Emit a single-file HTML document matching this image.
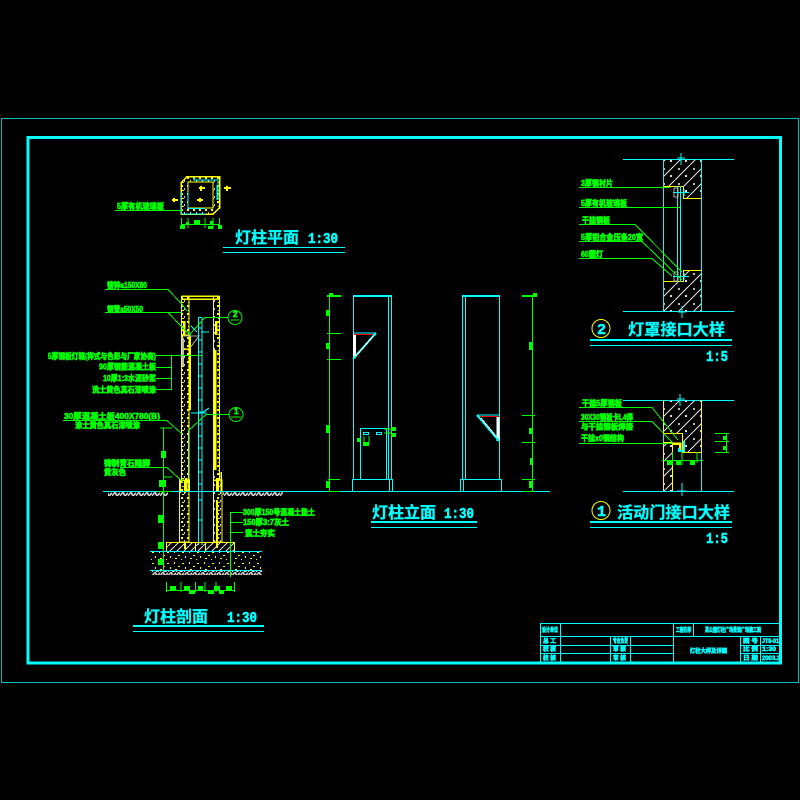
<!DOCTYPE html>
<html><head><meta charset="utf-8"><style>
html,body{margin:0;padding:0;background:#000;width:800px;height:800px;overflow:hidden}
svg{display:block}
.g{fill:#0f0;stroke:#0f0;stroke-width:.65;font:bold 8px "Liberation Sans","Noto Sans CJK SC",sans-serif}
.c{fill:#0ff;stroke:#0ff;stroke-width:.3;font:bold 16px "Liberation Sans","Noto Sans CJK SC",sans-serif}
.m{fill:#0ff;stroke:#0ff;stroke-width:.6;font:bold 15px "Liberation Mono","Noto Sans CJK SC",monospace}
.t{fill:#0ff;stroke:#0ff;stroke-width:.55;font:bold 6px "Liberation Sans","Noto Sans CJK SC",sans-serif}
</style></head><body>
<svg width="800" height="800" viewBox="0 0 800 800" xmlns="http://www.w3.org/2000/svg" fill="none" shape-rendering="crispEdges">
<defs>
<pattern id="conc" width="15" height="15" patternUnits="userSpaceOnUse"><path d="M0 15L15 0" stroke="#ddd" stroke-width="1"/><rect x="3" y="3" width="2" height="2" fill="#bbb"/><rect x="10" y="10" width="2" height="2" fill="#ddd"/></pattern>
<pattern id="wall" width="6" height="8" patternUnits="userSpaceOnUse"><rect x="1" y="1" width="2" height="2" fill="#ff0"/><rect x="4" y="4" width="1" height="2" fill="#ccc"/><rect x="2" y="6" width="2" height="1" fill="#ff0"/></pattern>
<pattern id="grav" width="15" height="11" patternUnits="userSpaceOnUse"><rect x="2" y="2" width="2" height="1" fill="#ff0"/><rect x="9" y="1" width="1" height="2" fill="#ff0"/><rect x="13" y="5" width="2" height="1" fill="#ff0"/><rect x="5" y="6" width="1" height="2" fill="#ff0"/><rect x="10" y="8" width="2" height="1" fill="#ff0"/><rect x="1" y="9" width="1" height="1" fill="#ff0"/></pattern>
<pattern id="gnd" width="8" height="4" patternUnits="userSpaceOnUse"><rect width="8" height="4" fill="#000"/><path d="M0 4L3 0L5 4L8 1" stroke="#ccc" stroke-width="1.600"/></pattern>
<pattern id="fnd" width="7" height="7" patternUnits="userSpaceOnUse"><path d="M0 7L7 0" stroke="#ddd" stroke-width="1"/></pattern>
</defs>

<!-- frames -->
<rect x="1.5" y="118.5" width="797" height="564" stroke="#0bb"/>
<rect x="28" y="137.5" width="752.5" height="525.5" stroke="#0ff" stroke-width="3"/>

<!-- plan -->
<g>
<path d="M187 176.500H219.500V208L213 214H181V183Z" fill="url(#wall)" stroke="#ff0" stroke-width="1.500"/>
<rect x="188" y="182" width="25" height="26" fill="#000" stroke="#ff0" stroke-width="1"/>
<path d="M181.500 192V214H206M188 192V208.500H205" stroke="#0ff"/>
<path d="M194 177V180H218V200M217 185V200" stroke="#0ff" stroke-width="1.300"/>
<path d="M199 188H205M201 186V191M224 188H231M227 186V191M172 200H178M174 198V202M197 200H203M200 198V202" stroke="#ff0" stroke-width="2"/>
<text class="g" x="117" y="209" textLength="47" lengthAdjust="spacingAndGlyphs">5厚有机玻璃板</text>
<path d="M115 210.500H182" stroke="#0f0"/>
<path d="M181 224.500H220M181.500 218V228M188 218V228M205 218V228M213 218V228M219.500 218V228" stroke="#0f0"/>
<rect x="180" y="225" width="5" height="4" fill="#0f0"/><rect x="194" y="220" width="6" height="5" fill="#0f0"/><rect x="208" y="226" width="5" height="3" fill="#0f0"/><rect x="218" y="225" width="4" height="4" fill="#0f0"/>
<rect x="186" y="222" width="3" height="3" fill="#0f0"/><rect x="210" y="221" width="3" height="3" fill="#0f0"/>
<text class="c" x="235" y="243" textLength="64" lengthAdjust="spacingAndGlyphs">灯柱平面</text>
<text class="m" x="308" y="243" font-size="13" textLength="30" lengthAdjust="spacingAndGlyphs">1:30</text>
<path d="M223 247.500H345M223 252.500H345" stroke="#0ff"/>
</g>

<!-- section -->
<g>
<rect x="181.500" y="296.500" width="7.500" height="184" fill="url(#wall)" stroke="#ff0" stroke-width="1.300"/>
<rect x="213.500" y="296.500" width="6" height="184" fill="url(#wall)" stroke="#ff0" stroke-width="1.300"/>
<path d="M181.500 296H219.500M181.500 299H219.500" stroke="#ff0" stroke-width="1.500"/>
<path d="M184 321V335M216 321V335M189.500 350V410M215 350V470M186 478V492M217 478V492" stroke="#ff0" stroke-width="2.500"/>
<path d="M182 335H190V349H182Z" stroke="#ff0" stroke-width="1.500"/>
<rect x="182" y="338" width="2" height="28" fill="#bbb"/>
<path d="M183 336H199L190 348" stroke="#aaa"/>
<path d="M198.500 317.500V545M202 317.500V545M198 317.500H202" stroke="#0ff" stroke-width="1.200"/>
<path d="M198 328H202M198 340H202M198 352H202M198 364H202M198 376H202M198 388H202M198 400H202M198 412H202M198 424H202M198 436H202M198 448H202M198 460H202M198 472H202M198 484H202M198 500H202M198 520H202" stroke="#0ff"/>
<path d="M191 326L197 332M201 332H209M191 413H207M209 408L202 413" stroke="#0ff" stroke-width="1.200"/>
<path d="M188.500 431V492" stroke="#0ff"/>
<path d="M181.500 420V480M189 420V482" stroke="#ff0" stroke-width="1.300"/>
<rect x="179.500" y="480" width="9.500" height="62" fill="url(#wall)" stroke="#ff0" stroke-width="1.300"/>
<rect x="213.500" y="480" width="8.500" height="62" fill="url(#wall)" stroke="#ff0" stroke-width="1.300"/>
<path d="M185 480V493M218 478V492M217 500V548M185 542V549" stroke="#ff0" stroke-width="2"/>
<path d="M181 480H189V492M180 480V493M221 472V492" stroke="#ff0" stroke-width="1.500"/>
<rect x="166.500" y="542.500" width="68" height="9" fill="url(#fnd)" stroke="#ff0" stroke-width="1.200"/>
<path d="M195.500 542V551M205.500 542V551" stroke="#ff0"/>
<rect x="151" y="552" width="111" height="18" fill="url(#grav)"/>
<path d="M150 551.500H262M150 570.500H262" stroke="#0ff"/>
<rect x="152" y="571" width="110" height="4" fill="url(#gnd)"/>
<rect x="108" y="492" width="60" height="4" fill="url(#gnd)"/>
<rect x="223" y="492" width="60" height="4" fill="url(#gnd)"/>
<path d="M103 491.500H550" stroke="#0ff"/>
<path d="M163.500 428V572M160 428H172M158 491.500H172M163 477H172" stroke="#0f0"/>
<rect x="161" y="451" width="5" height="7" fill="#0f0"/><rect x="159" y="480" width="7" height="7" fill="#0f0"/><rect x="158" y="515" width="6" height="8" fill="#0f0"/><rect x="158" y="542" width="5" height="7" fill="#0f0"/><rect x="158" y="559" width="5" height="6" fill="#0f0"/>
<path d="M230.500 512V577M230 512.500H243M230 522.500H243M230 532.500H243" stroke="#0f0"/>
<text class="g" x="243" y="515" textLength="72" lengthAdjust="spacingAndGlyphs">300厚150号混凝土垫土</text>
<text class="g" x="243" y="525" textLength="46" lengthAdjust="spacingAndGlyphs">150厚3:7灰土</text>
<text class="g" x="245" y="536" textLength="30" lengthAdjust="spacingAndGlyphs">素土夯实</text>
<path d="M166 590.500H235M166.500 582V592M181 582V592M195.500 582V592M205 582V592M216 582V592M234.500 582V592" stroke="#0f0"/>
<rect x="170" y="586" width="6" height="4" fill="#0f0"/><rect x="184" y="586" width="6" height="4" fill="#0f0"/><rect x="198" y="586" width="5" height="4" fill="#0f0"/><rect x="214" y="586" width="6" height="4" fill="#0f0"/><rect x="226" y="586" width="6" height="4" fill="#0f0"/><rect x="189" y="591" width="6" height="3" fill="#0f0"/><rect x="208" y="591" width="6" height="3" fill="#0f0"/><rect x="219" y="591" width="5" height="3" fill="#0f0"/>
<text class="c" x="144" y="622" textLength="64" lengthAdjust="spacingAndGlyphs">灯柱剖面</text>
<text class="m" x="227" y="622" font-size="13" textLength="30" lengthAdjust="spacingAndGlyphs">1:30</text>
<path d="M133 626H264" stroke="#0ff" stroke-width="2"/><path d="M133 631.500H264" stroke="#0ff"/>
</g>

<!-- section labels -->
<g>
<text class="g" x="107" y="288" textLength="40" lengthAdjust="spacingAndGlyphs">镀锌a150X80</text>
<path d="M105 289.500H168L181 303L187 311" stroke="#0f0"/>
<text class="g" x="107" y="312" textLength="36" lengthAdjust="spacingAndGlyphs">钢管a50X50</text>
<path d="M105 312.500H168L181 326L191 336M168 312.500H182" stroke="#0f0"/>
<path d="M228 317.500H205L190 334" stroke="#0f0"/>
<circle cx="235" cy="317.500" r="7" stroke="#0f0" shape-rendering="auto"/>
<text class="g" x="233" y="317" font-size="6">2</text><path d="M231 320H239" stroke="#0f0"/>
<text class="g" x="48" y="359" textLength="108" lengthAdjust="spacingAndGlyphs">5厚钢板灯箱(样式与色彩与厂家协商)</text>
<path d="M156 355.500H202M156 367.500H171M156 378.500H171M156 389.500H171M171.500 355V390" stroke="#0f0"/>
<text class="g" x="99" y="369.500" textLength="57" lengthAdjust="spacingAndGlyphs">90厚钢筋混凝土板</text>
<text class="g" x="103" y="381" textLength="53" lengthAdjust="spacingAndGlyphs">10厚1:3水泥砂浆</text>
<text class="g" x="92" y="392.500" textLength="64" lengthAdjust="spacingAndGlyphs">洗土黄色真石漆喷涂</text>
<text class="g" x="64" y="419" textLength="96" lengthAdjust="spacingAndGlyphs">30厚混凝土板400X780(B)</text>
<path d="M63 420.500H167L182 434" stroke="#0f0"/>
<text class="g" x="75" y="428" textLength="65" lengthAdjust="spacingAndGlyphs">涂土黄色真石漆喷涂</text>
<path d="M188 431L206 414.500H229" stroke="#0f0"/>
<circle cx="236" cy="414.500" r="7" stroke="#0f0" shape-rendering="auto"/>
<text class="g" x="234" y="414" font-size="6">1</text><path d="M231 417H241" stroke="#0f0"/>
<text class="g" x="104" y="466" textLength="46" lengthAdjust="spacingAndGlyphs">铸制青石踏脚</text>
<path d="M120 467.500H167L183 482" stroke="#0f0"/>
<text class="g" x="104" y="475" textLength="22" lengthAdjust="spacingAndGlyphs">黄灰色</text>
</g>

<!-- elevation left -->
<g>
<path d="M353.500 296.500V479M388.500 296.500V479M391.500 296.500V479" stroke="#0ff"/>
<path d="M353 296H392" stroke="#0ff" stroke-width="2"/>
<path d="M352.500 491V479.500H392.500V491M389.500 479.500V491" stroke="#0ff"/>
<rect x="360.500" y="428.500" width="26" height="51" stroke="#0ff"/>
<rect x="363.500" y="432.500" width="5" height="2" stroke="#0ff"/><rect x="376.500" y="432.500" width="5" height="2" stroke="#0ff"/>
<path d="M354.500 334V358" stroke="#fff" stroke-width="3"/>
<path d="M354 333H376" stroke="#0ff" stroke-width="1"/>
<path d="M354 334.500H374" stroke="#f00" stroke-width="1"/>
<path d="M353 359L376 333" stroke="#0ff" stroke-width="2"/>
<path d="M356 356L373 336" stroke="#fff" stroke-width="1"/>
<path d="M329.500 296V492" stroke="#0f0"/>
<path d="M327 296H341" stroke="#0f0" stroke-width="2"/>
<path d="M327 333.500H341M327 359.500H341M328 479.500H340M328 491.500H340" stroke="#0f0"/>
<rect x="326" y="310" width="4" height="6" fill="#0f0"/><rect x="326" y="343" width="3" height="6" fill="#0f0"/><rect x="326" y="425" width="4" height="8" fill="#0f0"/><rect x="326" y="481" width="4" height="7" fill="#0f0"/><rect x="329" y="293" width="4" height="3" fill="#0f0"/>
<path d="M384 429H392M384 433H392M364 436V443M369 436V443M364 443H369" stroke="#0f0"/>
<rect x="391" y="427" width="5" height="4" fill="#0f0"/><rect x="391" y="433" width="5" height="4" fill="#0f0"/><rect x="357" y="438" width="3" height="4" fill="#0f0"/><rect x="363" y="442" width="6" height="4" fill="#0f0"/>
</g>
<!-- elevation right -->
<g>
<path d="M462.500 296.500V479M465.500 296.500V479M499.500 296.500V479" stroke="#0ff"/>
<path d="M462 296H500" stroke="#0ff" stroke-width="2"/>
<path d="M460.500 491V479.500H501.500V491M463.500 479.500V491" stroke="#0ff"/>
<path d="M498 417V441" stroke="#fff" stroke-width="3"/>
<path d="M477 415H499" stroke="#0ff" stroke-width="1"/>
<path d="M479 416.500H498" stroke="#f00" stroke-width="1"/>
<path d="M477 415L499 441" stroke="#0ff" stroke-width="2"/>
<path d="M481 418L496 436" stroke="#fff" stroke-width="1"/>
<path d="M532.500 296V492" stroke="#0f0"/>
<path d="M522 296H534" stroke="#0f0" stroke-width="2"/>
<path d="M522 415.500H535M522 442.500H535M522 479.500H535M522 491.500H534" stroke="#0f0"/>
<rect x="533" y="293" width="4" height="4" fill="#0f0"/><rect x="529" y="342" width="4" height="8" fill="#0f0"/><rect x="529" y="428" width="4" height="6" fill="#0f0"/><rect x="530" y="458" width="3" height="7" fill="#0f0"/><rect x="529" y="481" width="4" height="7" fill="#0f0"/>
<text class="c" x="372" y="518" textLength="64" lengthAdjust="spacingAndGlyphs">灯柱立面</text>
<text class="m" x="444" y="518" font-size="13" textLength="30" lengthAdjust="spacingAndGlyphs">1:30</text>
<path d="M371 522H477" stroke="#0ff" stroke-width="2"/><path d="M371 527.500H477" stroke="#0ff"/>
</g>

<!-- detail 2 -->
<g>
<path d="M623 159.500H734M623 311.500H734" stroke="#0ff"/>
<path d="M663.500 159.500V186.500H683.500V198.500H701.500V159.500Z" fill="url(#conc)"/>
<path d="M663.500 311.500V281.500H683.500V270.500H701.500V311.500Z" fill="url(#conc)"/>
<path d="M663.500 159V311M701.500 159V311" stroke="#0ff"/>
<path d="M663.500 186.500H683.500V198.500H701.500M663.500 281.500H683.500V270.500H701.500" stroke="#ff0" stroke-width="1.300"/>
<path d="M677.500 186V282M680.500 186V282" stroke="#0ff"/>
<rect x="674" y="188" width="4" height="9" stroke="#aaa"/><rect x="674" y="272" width="4" height="9" stroke="#aaa"/>
<path d="M673 192.500H689M673 276.500H689M684 189V196M684 273V280" stroke="#0ff" stroke-width="1.300"/>
<path d="M681 153V165M682 306V318M677 158H685M678 312H686" stroke="#0ff"/>
<g>
<text class="g" x="581" y="186" textLength="32" lengthAdjust="spacingAndGlyphs">3厚钢衬片</text>
<path d="M579 187.500H670M579 207.500H680M579 224.500H635L682 272M579 241.500H642L682 280M579 258.500H652L672 276" stroke="#0f0"/>
<text class="g" x="581" y="206" textLength="46" lengthAdjust="spacingAndGlyphs">5厚有机玻璃板</text>
<text class="g" x="582" y="223" textLength="28" lengthAdjust="spacingAndGlyphs">干挂钢板</text>
<text class="g" x="581" y="240" textLength="62" lengthAdjust="spacingAndGlyphs">5厚铝合金压条20宽</text>
<text class="g" x="581" y="257" textLength="22" lengthAdjust="spacingAndGlyphs">60圆灯</text>
<circle cx="601" cy="328.500" r="9" stroke="#ff0" shape-rendering="auto"/>
<text class="m" x="597" y="334" font-size="14">2</text>
<text class="c" x="628" y="335" textLength="97" lengthAdjust="spacingAndGlyphs">灯罩接口大样</text>
<text class="m" x="706" y="361" font-size="14" textLength="22" lengthAdjust="spacingAndGlyphs">1:5</text>
</g>
<path d="M590 340H732" stroke="#0ff" stroke-width="2"/><path d="M590 345.500H732" stroke="#0ff"/>
</g>

<!-- detail 1 -->
<g>
<path d="M623 400.500H734M623 491.500H734" stroke="#0ff"/>
<path d="M663.500 400.500V433.500H682.500V452.500H701.500V400.500Z" fill="url(#conc)"/>
<rect x="664" y="442" width="8" height="49" fill="url(#conc)"/>
<path d="M663.500 400V433M701.500 400V491M663.500 433V442" stroke="#0ff"/>
<path d="M663.500 400V433.500H682.500V452.500H701.500V400M663.500 442V491M672.500 442V491M663.500 442.500H672.500" stroke="#ff0" stroke-width="1.200"/>
<path d="M672 443.500H680V451" stroke="#ff0" stroke-width="2.500"/>
<path d="M679 448V451H684V441" stroke="#0ff" stroke-width="2"/>
<path d="M680 394V406M682 483V496M677 399H685M677 491H686" stroke="#0ff"/>
<path d="M662 460.500H703M672.500 452V465M682 451V465M697 452V463" stroke="#0f0"/>
<rect x="667" y="461" width="5" height="4" fill="#0f0"/><rect x="676" y="461" width="5" height="4" fill="#0f0"/><rect x="690" y="461" width="5" height="4" fill="#0f0"/>
<path d="M726.500 433V453M715 433.500H729M715 441.500H729M715 452.500H729" stroke="#0f0"/>
<rect x="723" y="436" width="3" height="4" fill="#0f0"/><rect x="723" y="446" width="3" height="4" fill="#0f0"/>
<g>
<text class="g" x="582" y="406" textLength="40" lengthAdjust="spacingAndGlyphs">干挂5厚钢板</text>
<path d="M579 407.500H652L678 440M579 421.500H652L673 443M579 443.500H672" stroke="#0f0"/>
<text class="g" x="581" y="420" textLength="52" lengthAdjust="spacingAndGlyphs">30X30钢板卡L4焊</text>
<text class="g" x="581" y="429.500" textLength="52" lengthAdjust="spacingAndGlyphs">与干挂钢板焊接</text>
<text class="g" x="581" y="441" textLength="43" lengthAdjust="spacingAndGlyphs">干挂x0钢结构</text>
<circle cx="601" cy="510.500" r="9" stroke="#ff0" shape-rendering="auto"/>
<text class="m" x="597" y="516" font-size="14">1</text>
<text class="c" x="617" y="518" textLength="113" lengthAdjust="spacingAndGlyphs">活动门接口大样</text>
<text class="m" x="706" y="543" font-size="14" textLength="22" lengthAdjust="spacingAndGlyphs">1:5</text>
</g>
<path d="M590 522H732" stroke="#0ff" stroke-width="2"/><path d="M590 527.500H732" stroke="#0ff"/>
</g>

<!-- title block -->
<g>
<path d="M540.500 623.500H781M540.500 636.500H781M540.500 645.500H673M540.500 653.500H673M740 645.500H781M740 653.500H781M540.500 623V663M560.500 623V663M610.500 636V663M630.500 636V663M673.500 623V663M693.500 623V636M740.500 636V663M760.500 636V663" stroke="#0ff"/>
<g>
<text class="t" x="542" y="632" textLength="16" lengthAdjust="spacingAndGlyphs">设计单位</text>
<text class="t" x="676" y="632" textLength="15" lengthAdjust="spacingAndGlyphs">工程名称</text>
<text class="t" x="705" y="632" textLength="56" lengthAdjust="spacingAndGlyphs">某公园灯柱广场景观广场施工图</text>
<text class="t" x="543" y="643" textLength="13" lengthAdjust="spacingAndGlyphs">总 工</text>
<text class="t" x="543" y="651" textLength="13" lengthAdjust="spacingAndGlyphs">校 核</text>
<text class="t" x="543" y="660" textLength="13" lengthAdjust="spacingAndGlyphs">校 核</text>
<text class="t" x="613" y="643" textLength="15" lengthAdjust="spacingAndGlyphs">专业负责</text>
<text class="t" x="613" y="651" textLength="13" lengthAdjust="spacingAndGlyphs">审 核</text>
<text class="t" x="613" y="660" textLength="13" lengthAdjust="spacingAndGlyphs">审 核</text>
<text class="t" x="690" y="653" textLength="37" lengthAdjust="spacingAndGlyphs">灯柱大样及详图</text>
<text class="t" x="743" y="643" textLength="15" lengthAdjust="spacingAndGlyphs">图 号</text>
<text class="t" x="743" y="651" textLength="15" lengthAdjust="spacingAndGlyphs">比 例</text>
<text class="t" x="743" y="660" textLength="15" lengthAdjust="spacingAndGlyphs">日 期</text>
<text class="t" x="762" y="643" textLength="17" lengthAdjust="spacingAndGlyphs">JT8-01</text>
<text class="t" x="762" y="651" textLength="14" lengthAdjust="spacingAndGlyphs">1:30</text>
<text class="t" x="762" y="660" textLength="18" lengthAdjust="spacingAndGlyphs">2003.2</text>
</g>
</g>
</svg>
</body></html>
